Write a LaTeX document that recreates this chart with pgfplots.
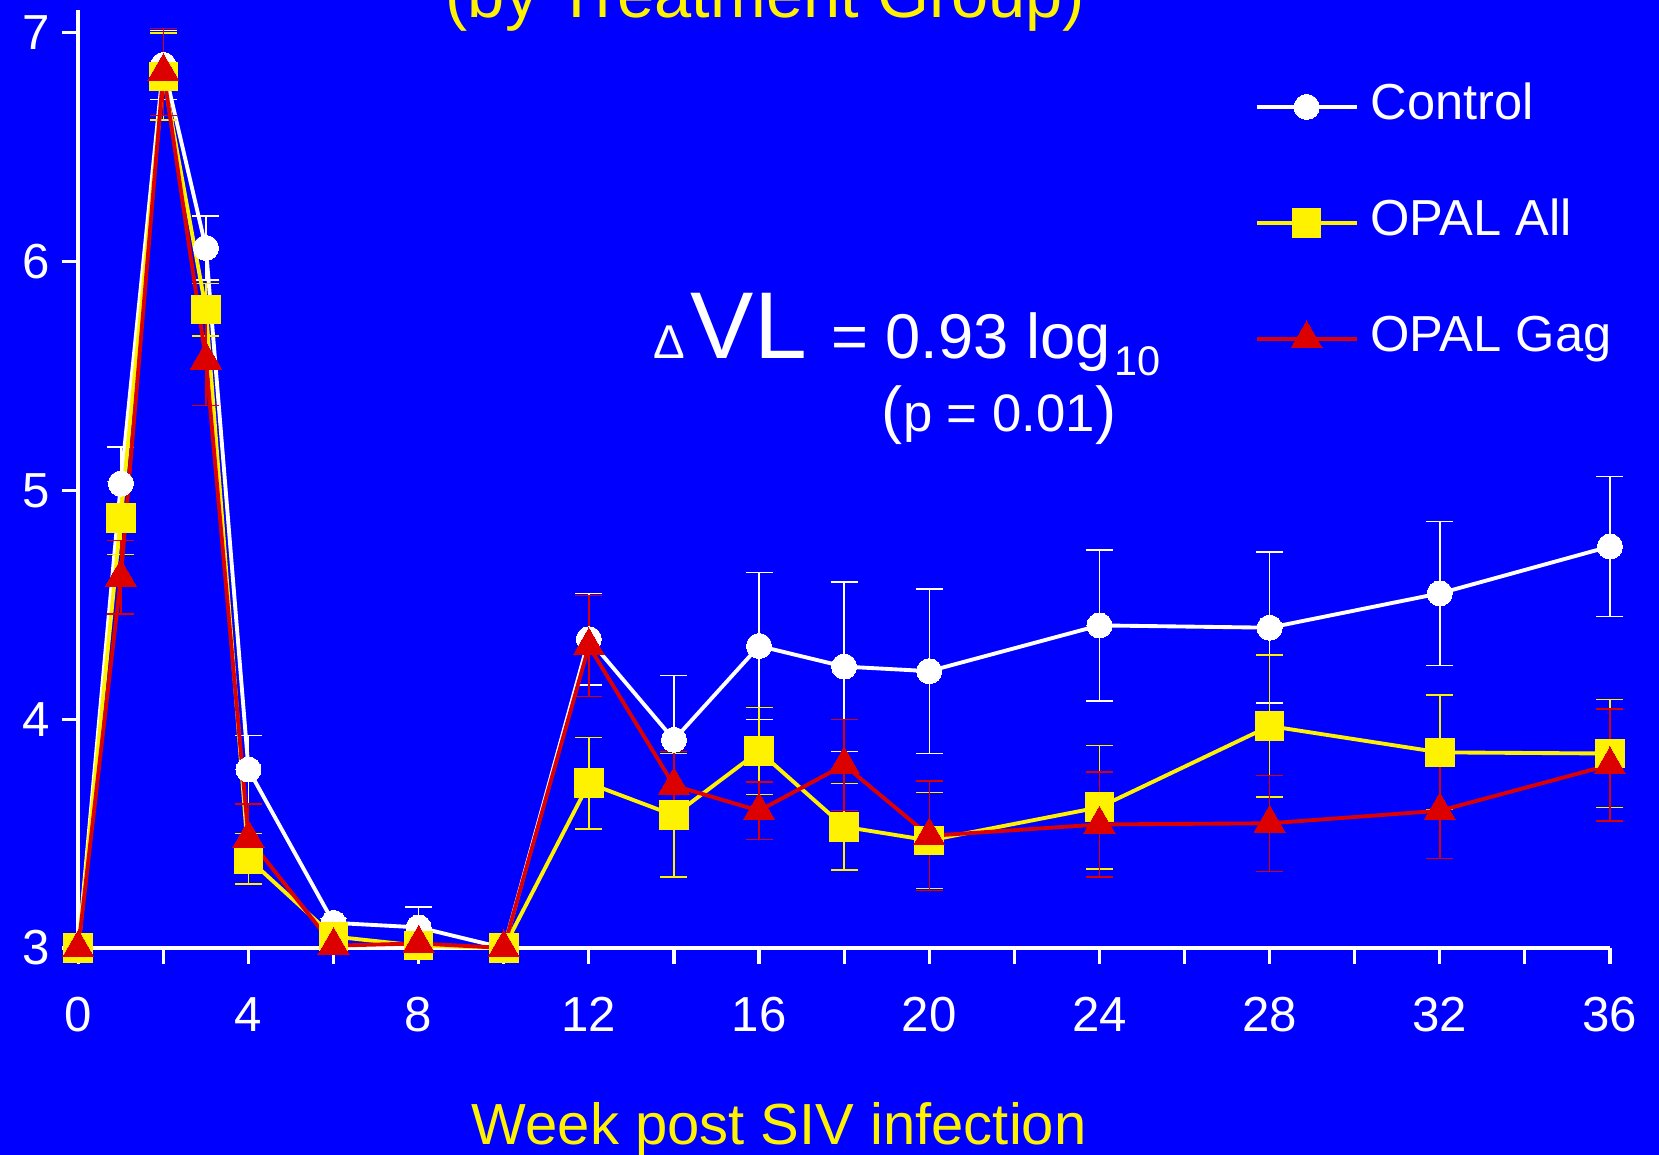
\documentclass[border=0pt]{standalone}
\usepackage{pgfplots}
\pgfplotsset{compat=1.18}
\usepackage{fontspec}
\setmainfont{Liberation Sans}
\definecolor{bg}{RGB}{0,0,255}
\definecolor{yel}{RGB}{255,242,0}
\definecolor{myred}{RGB}{220,0,0}

\pgfplotstableread{
x y e
0 3.00 0
1 5.03 0.16
2 6.86 0.15
3 6.06 0.14
4 3.78 0.15
6 3.11 0.02
8 3.09 0.09
10 3.00 0
12 4.35 0.20
14 3.91 0.28
16 4.32 0.32
18 4.23 0.37
20 4.21 0.36
24 4.41 0.33
28 4.40 0.33
32 4.55 0.315
36 4.755 0.305
}\control
\pgfplotstableread{
x y e
0 3.00 0
1 4.88 0.16
2 6.81 0.19
3 5.79 0.115
4 3.39 0.11
6 3.05 0.02
8 3.01 0.01
10 3.00 0
12 3.72 0.20
14 3.58 0.27
16 3.86 0.19
18 3.53 0.19
20 3.47 0.21
24 3.615 0.27
28 3.97 0.31
32 3.855 0.25
36 3.85 0.235
}\opalall
\pgfplotstableread{
x y e
0 3.00 0
1 4.62 0.16
2 6.83 0.19
3 5.57 0.20
4 3.48 0.15
6 3.01 0.01
8 3.02 0.01
10 3.00 0
12 4.32 0.22
14 3.71 0.15
16 3.60 0.125
18 3.80 0.20
20 3.49 0.24
24 3.54 0.23
28 3.545 0.21
32 3.60 0.21
36 3.80 0.245
}\opalgag

\begin{document}
\begin{tikzpicture}
\fill[bg] (0,0) rectangle (16.59cm,11.55cm);
\begin{axis}[
  at={(0.783cm,2.07cm)}, anchor=south west,
  scale only axis, width=15.317cm, height=9.38cm,
  xmin=0, xmax=36, ymin=3, ymax=7.1,
  axis x line*=bottom, axis y line*=left,
  axis line style={white, line width=1.1pt, -},
  xtick={0,4,...,36}, minor xtick={2,6,...,34},
  ytick={3,4,5,6,7},
  tick align=outside, major tick length=1.6mm, minor tick length=1.6mm,
  tick style={white, line width=0.9pt},
  ticklabel style={text=white, font=\fontsize{14}{16}\selectfont},
  /pgf/number format/assume math mode=true,
  xticklabel style={yshift=-2.1mm},
  xlabel={Week post SIV infection},
  xlabel style={at={(axis description cs:0.4576,0)}, anchor=base, yshift=-19.7mm, text=yel, font=\fontsize{16.5}{20}\selectfont},
  clip=false,
  legend cell align=left,
  legend style={at={(0.7676,0.7730)}, anchor=west, draw=none, fill=none, inner sep=0pt,
    row sep=6mm, column sep=0.7mm, text=white, font=\fontsize{14.4}{16}\selectfont,
    nodes={inner sep=0.5mm, text height=3.6mm, text depth=1mm}},
  legend image code/.code={\draw[#1, mark repeat=2, mark phase=2] plot coordinates {(0mm,0mm) (5mm,0mm) (10mm,0mm)};},
]
\addplot[white, line width=1.1pt, mark=*, mark size=1.25mm, mark options={fill=white, draw=white, line width=0pt},
  error bars/.cd, y dir=both, y explicit, error bar style={white, line width=0.4pt},
  error mark options={white, line width=0.4pt, mark size=1.35mm, rotate=90}]
  table[x=x, y=y, y error=e] {\control};
\addplot[yel, line width=1.1pt, mark=square*, mark size=1.43mm, mark options={fill=yel, draw=yel, line width=0pt},
  error bars/.cd, y dir=both, y explicit, error bar style={yel, line width=0.4pt},
  error mark options={yel, line width=0.4pt, mark size=1.35mm, rotate=90}]
  table[x=x, y=y, y error=e] {\opalall};
\addplot[myred, line width=1.1pt, mark=triangle*, mark size=1.8mm, mark options={fill=myred, draw=myred, line width=0pt},
  error bars/.cd, y dir=both, y explicit, error bar style={myred, line width=0.4pt},
  error mark options={myred, line width=0.4pt, mark size=1.35mm, rotate=90}]
  table[x=x, y=y, y error=e] {\opalgag};
\legend{Control, OPAL All, OPAL Gag}
\end{axis}
\node[anchor=base west, inner sep=0pt, text=white, font=\fontsize{13.5}{13.5}\selectfont] at (6.527cm,7.96cm) {Δ};
\node[anchor=base west, inner sep=0pt, text=white, font=\fontsize{27}{27}\selectfont] at (6.90cm,7.96cm) {VL};
\node[anchor=base west, inner sep=0pt, text=white, font=\fontsize{18}{18}\selectfont] at (8.305cm,7.96cm) {= 0.93 log};
\node[anchor=base west, inner sep=0pt, text=white, font=\fontsize{11.8}{12}\selectfont] at (11.14cm,7.79cm) {10};
\node[anchor=base, inner sep=0pt, text=white, font=\fontsize{15}{15}\selectfont] at (9.99cm,7.233cm) {{\fontsize{18}{18}\selectfont(}p = 0.01{\fontsize{18}{18}\selectfont)}};
\node[anchor=base, inner sep=0pt, text=yel, font=\fontsize{19}{19}\selectfont] at (7.655cm,11.37cm) {(by Treatment Group)};
\pgfresetboundingbox
\useasboundingbox (0,0) rectangle (16.59cm,11.55cm);
\end{tikzpicture}
\end{document}
